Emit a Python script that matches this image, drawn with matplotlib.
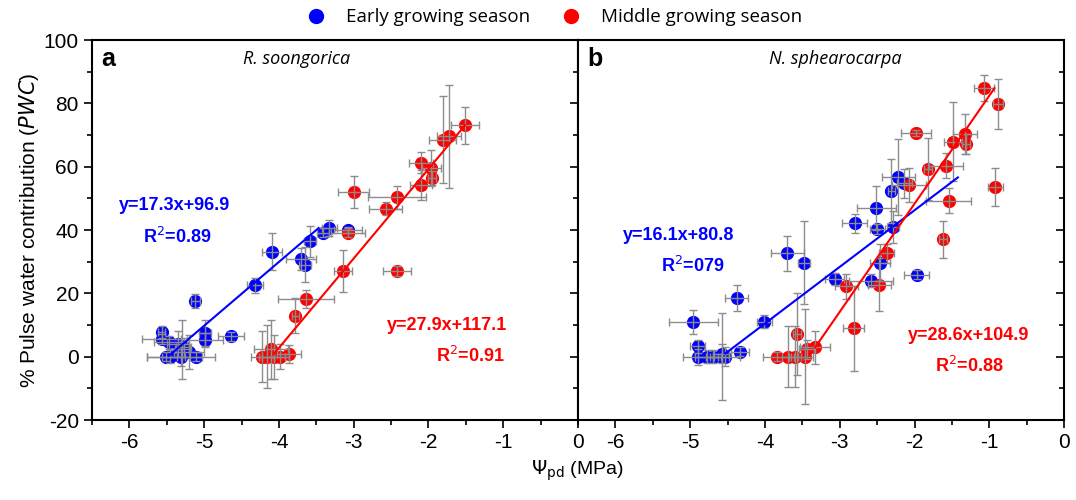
import numpy as np
import matplotlib
matplotlib.use("Agg")
import matplotlib.pyplot as plt
from matplotlib.ticker import MultipleLocator
from matplotlib.lines import Line2D

plt.rcParams['font.family'] = ['Liberation Sans', 'DejaVu Sans']
plt.rcParams['axes.unicode_minus'] = False

# ---- panel a: R. soongorica ----
a_early_x = [-3.08, -3.33, -3.41, -3.58, -4.09, -3.71, -3.65, -4.32, -5.12, -4.64, -4.99, -4.99,
             -5.57, -5.57, -5.47, -5.35, -5.29, -5.20, -5.27, -5.51, -5.46, -5.31, -5.11]
a_early_y = [40.0, 40.6, 39.2, 36.4, 33.2, 30.8, 29.0, 22.5, 17.7, 6.4, 7.4, 5.4,
             7.8, 5.6, 4.5, 4.0, 2.4, 1.4, 3.0, 0.0, 0.0, 0.0, 0.0]
a_early_xerr = [0.19, 0.10, 0.08, 0.08, 0.13, 0.20, 0.08, 0.11, 0.06, 0.17, 0.08, 0.24,
                0.05, 0.26, 0.20, 0.15, 0.10, 0.20, 0.10, 0.25, 0.10, 0.46, 0.08]
a_early_yerr = [1.0, 2.5, 1.5, 5.0, 5.7, 3.5, 5.5, 2.4, 2.2, 1.5, 4.2, 2.0,
                2.0, 1.5, 2.0, 4.0, 9.3, 5.3, 3.0, 1.5, 2.0, 3.0, 1.5]

a_mid_x = [-1.51, -1.73, -1.81, -2.10, -1.96, -1.95, -2.10, -2.42, -3.00, -2.57, -3.08,
           -3.14, -2.42, -3.64, -3.78, -4.11, -3.86, -4.22, -4.16, -4.07, -3.98]
a_mid_y = [73.1, 69.6, 68.5, 61.3, 59.6, 56.5, 54.2, 50.3, 52.0, 46.7, 39.2,
           27.1, 27.1, 18.3, 13.0, 2.3, 0.8, 0.0, 0.0, 0.0, 0.0]
a_mid_xerr = [0.19, 0.16, 0.18, 0.16, 0.13, 0.05, 0.15, 0.39, 0.21, 0.22, 0.23,
              0.12, 0.19, 0.37, 0.05, 0.23, 0.16, 0.15, 0.10, 0.15, 0.12]
a_mid_yerr = [5.8, 16.3, 13.7, 3.2, 5.7, 2.2, 4.8, 3.7, 4.9, 2.0, 1.5,
              6.6, 1.5, 2.9, 5.5, 9.2, 2.9, 8.0, 10.0, 7.0, 4.0]

a_early_fit_x = [-5.47, -3.47]
a_early_fit_y = [0.3, 40.6]
a_mid_fit_x = [-4.07, -1.51]
a_mid_fit_y = [0.8, 73.1]

# ---- panel b: N. sphearocarpa ----
b_early_x = [-2.22, -2.14, -2.31, -2.51, -2.80, -2.50, -2.29, -3.70, -3.48, -2.46, -3.07, -2.58,
             -1.97, -4.38, -4.96, -4.01, -4.90, -4.34, -4.58, -4.89, -4.78, -4.69, -4.58, -4.53]
b_early_y = [56.6, 54.7, 52.3, 46.9, 42.1, 40.3, 41.0, 32.7, 29.7, 29.7, 24.5, 24.0,
             25.9, 18.5, 11.0, 11.0, 3.3, 1.6, 1.0, 0.0, 0.0, 0.0, 0.0, 0.0]
b_early_xerr = [0.22, 0.10, 0.05, 0.26, 0.17, 0.10, 0.08, 0.22, 0.08, 0.13, 0.13, 0.29,
                0.17, 0.15, 0.33, 0.10, 0.10, 0.12, 0.10, 0.20, 0.15, 0.10, 0.10, 0.20]
b_early_yerr = [12.0, 4.5, 10.0, 7.0, 3.0, 1.5, 5.0, 5.5, 13.0, 5.8, 2.0, 2.0,
                1.5, 4.2, 3.7, 2.1, 2.0, 1.5, 3.0, 2.5, 2.0, 2.0, 13.7, 3.0]

b_mid_x = [-1.07, -0.88, -1.98, -1.33, -1.49, -1.31, -1.58, -1.82, -0.92, -2.07, -1.54, -1.62,
           -2.37, -2.91, -2.47, -2.81, -3.57, -3.33, -3.44, -3.84, -3.69, -3.60, -3.46]
b_mid_y = [84.8, 79.9, 70.7, 70.3, 67.9, 67.2, 60.3, 59.2, 53.7, 54.2, 49.3, 37.1,
           32.6, 22.2, 22.7, 8.9, 7.2, 2.9, 2.4, 0.0, 0.0, 0.0, 0.0]
b_mid_xerr = [0.13, 0.07, 0.20, 0.16, 0.12, 0.05, 0.23, 0.05, 0.10, 0.23, 0.30, 0.05,
              0.10, 0.16, 0.15, 0.14, 0.05, 0.20, 0.10, 0.19, 0.08, 0.08, 0.10]
b_mid_yerr = [4.2, 7.9, 1.0, 6.3, 12.4, 3.2, 4.0, 9.7, 6.0, 5.5, 4.0, 5.8,
              2.9, 4.0, 8.4, 13.4, 12.9, 5.3, 3.0, 1.5, 9.7, 9.7, 15.0]

b_early_fit_x = [-4.53, -1.42]
b_early_fit_y = [1.0, 56.6]
b_mid_fit_x = [-3.33, -0.93]
b_mid_fit_y = [2.9, 84.8]

# equation labels: (text, x, y, colour)
a_eq = [("y=17.3x+96.9", -5.40, 47.6, 'blue'), ("R$^2$=0.89", -5.36, 37.9, 'blue'),
        ("y=27.9x+117.1", -1.75, 9.8, 'red'), ("R$^2$=0.91", -1.44, 0.3, 'red')]
b_eq = [("y=16.1x+80.8", -5.16, 38.2, 'blue'), ("R$^2$=079", -4.96, 28.7, 'blue'),
        ("y=28.6x+104.9", -1.27, 6.6, 'red'), ("R$^2$=0.88", -1.27, -2.8, 'red')]

xticks = [-6, -5, -4, -3, -2, -1, 0]
yticks = [-20, 0, 20, 40, 60, 80, 100]

BLUE = '#0000ff'
RED = '#ff0000'
GREY = '#8c8c8c'

fig = plt.figure(figsize=(10.76, 5.0), dpi=100)
ax1 = fig.add_axes([0.0855, 0.16, 0.4517, 0.76])
ax2 = fig.add_axes([0.5372, 0.16, 0.4517, 0.76])


def draw_panel(ax, ex, ey, exe, eye, mx, my, mxe, mye, efx, efy, mfx, mfy, eqs):
    for x, y, xe, ye, c in [(ex, ey, exe, eye, BLUE), (mx, my, mxe, mye, RED)]:
        ax.plot(x, y, 'o', color=c, ms=8.5, mec=c, zorder=2)
        ax.errorbar(x, y, xerr=xe, yerr=ye, fmt='none', ecolor=GREY,
                    elinewidth=1.0, capsize=3, capthick=1.0, zorder=3)
    ax.plot(efx, efy, color=BLUE, lw=1.5, zorder=4)
    ax.plot(mfx, mfy, color=RED, lw=1.5, zorder=4)
    for t, x, y, c in eqs:
        ax.text(x, y, t, color=c, fontsize=13, fontweight='bold',
                ha='center', va='center')
    ax.set_xlim(-6.5, 0)
    ax.set_ylim(-20, 100)
    ax.set_xticks(xticks)
    ax.set_yticks(yticks)
    ax.xaxis.set_minor_locator(MultipleLocator(0.5))
    ax.yaxis.set_minor_locator(MultipleLocator(10))
    for s in ax.spines.values():
        s.set_linewidth(1.5)
    ax.tick_params(axis='x', which='both', direction='out', labelsize=15, width=1.2)
    ax.tick_params(axis='x', which='major', length=6)
    ax.tick_params(axis='x', which='minor', length=3.5)


draw_panel(ax1, a_early_x, a_early_y, a_early_xerr, a_early_yerr,
           a_mid_x, a_mid_y, a_mid_xerr, a_mid_yerr,
           a_early_fit_x, a_early_fit_y, a_mid_fit_x, a_mid_fit_y, a_eq)
draw_panel(ax2, b_early_x, b_early_y, b_early_xerr, b_early_yerr,
           b_mid_x, b_mid_y, b_mid_xerr, b_mid_yerr,
           b_early_fit_x, b_early_fit_y, b_mid_fit_x, b_mid_fit_y, b_eq)

# y ticks: left panel outward on left; inward ticks on the right of both panels
ax1.tick_params(axis='y', which='both', direction='out', labelsize=15, width=1.2, right=False)
ax1.tick_params(axis='y', which='major', length=6)
ax1.tick_params(axis='y', which='minor', length=3.5)
for ax in (ax1, ax2):
    tw = ax.twinx()
    tw.set_ylim(-20, 100)
    tw.set_yticks(yticks)
    tw.yaxis.set_minor_locator(MultipleLocator(10))
    tw.tick_params(axis='y', which='both', direction='in', labelright=False, width=1.2)
    tw.tick_params(axis='y', which='major', length=6)
    tw.tick_params(axis='y', which='minor', length=3.5)
    for s in tw.spines.values():
        s.set_visible(False)
ax2.tick_params(axis='y', which='both', left=False, right=False, labelleft=False)

ax1.set_ylabel('% Pulse water contribution ($\\it{PWC}$)', fontsize=15, labelpad=2)

ax1.text(0.02, 0.95, 'a', transform=ax1.transAxes, fontsize=18, fontweight='bold',
         ha='left', va='center')
ax2.text(0.02, 0.95, 'b', transform=ax2.transAxes, fontsize=18, fontweight='bold',
         ha='left', va='center')
ax1.text(0.42, 0.95, 'R. soongorica', transform=ax1.transAxes, fontsize=13,
         style='italic', ha='center', va='center', family=['Open Sans', 'DejaVu Sans'])
ax2.text(0.53, 0.95, 'N. sphearocarpa', transform=ax2.transAxes, fontsize=13,
         style='italic', ha='center', va='center', family=['Open Sans', 'DejaVu Sans'])

fig.text(0.537, 0.058, '$\\Psi_{\\rm pd}$ (MPa)', fontsize=14, ha='center', va='center')

handles = [Line2D([], [], ls='none', marker='o', ms=10, color=BLUE),
           Line2D([], [], ls='none', marker='o', ms=10, color=RED)]
fig.legend(handles, ['Early growing season', 'Middle growing season'], ncol=2,
           loc='center', bbox_to_anchor=(0.511, 0.965), frameon=False,
           prop={'family': ['Open Sans', 'DejaVu Sans'], 'size': 13.5},
           handletextpad=0.6, columnspacing=1.2)

fig.savefig('out.png', dpi=100)
